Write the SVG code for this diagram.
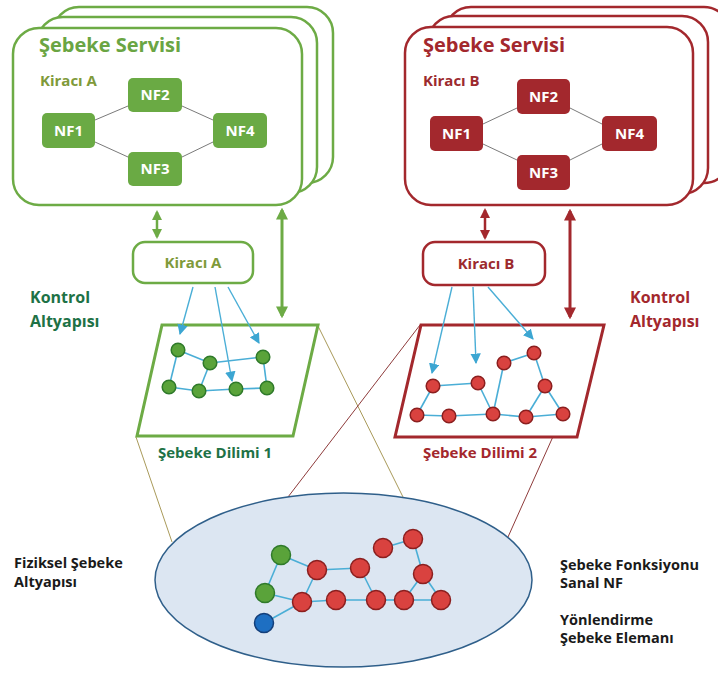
<svg xmlns="http://www.w3.org/2000/svg" width="718" height="673" viewBox="0 0 718 673">
  <defs>
    <style>
      text { font-family: "Open Sans", "Liberation Sans", sans-serif; font-weight: bold; }
      .stackA { fill: #ffffff; stroke: #6dab45; stroke-width: 2.5; }
      .stackB { fill: #ffffff; stroke: #a3282d; stroke-width: 2.5; }
      .nfA { fill: #6aaa44; }
      .nfB { fill: #a3282d; }
      .nft { fill: #ffffff; font-size: 15px; text-anchor: middle; }
      .nfl { stroke: #7a7a7a; stroke-width: 1; fill: none; }
      .tenA { fill: #ffffff; stroke: #6dab45; stroke-width: 2.5; }
      .tenB { fill: #ffffff; stroke: #a3282d; stroke-width: 2.5; }
      .sliceA { fill: #ffffff; stroke: #6dab45; stroke-width: 3; }
      .sliceB { fill: #ffffff; stroke: #a3282d; stroke-width: 3; }
      .link { stroke: #4aaed6; stroke-width: 1.6; fill: none; }
      .ctl { stroke: #4aaed6; stroke-width: 1.4; fill: none; marker-end: url(#blueHead); }
      .gn { fill: #5aa33a; stroke: #2f7a2a; stroke-width: 1.5; }
      .rn { fill: #d9423f; stroke: #8b1f1f; stroke-width: 1.5; }
      .bn { fill: #1e6fc2; stroke: #143f7a; stroke-width: 1.5; }
      .gArrow { stroke: #6dab45; fill: none; marker-start: url(#gHead); marker-end: url(#gHead); }
      .rArrow { stroke: #a3282d; fill: none; marker-start: url(#rHead); marker-end: url(#rHead); }
      .projA { stroke: #a99a5a; stroke-width: 1; fill: none; }
      .projB { stroke: #8e3b3b; stroke-width: 1; fill: none; }
      .lbl { fill: #1a1a1a; font-size: 14.5px; }
    </style>
    <marker id="gHead" viewBox="0 0 10 10" refX="8" refY="5" markerWidth="4" markerHeight="4" orient="auto-start-reverse" markerUnits="strokeWidth">
      <path d="M0,0 L10,5 L0,10 z" fill="#6dab45"/>
    </marker>
    <marker id="rHead" viewBox="0 0 10 10" refX="8" refY="5" markerWidth="4" markerHeight="4" orient="auto-start-reverse" markerUnits="strokeWidth">
      <path d="M0,0 L10,5 L0,10 z" fill="#a3282d"/>
    </marker>
    <marker id="blueHead" viewBox="0 0 10 10" refX="9" refY="5" markerWidth="7.5" markerHeight="7.5" orient="auto" markerUnits="strokeWidth">
      <path d="M0,0 L10,5 L0,10 z" fill="#3ca6d2"/>
    </marker>
  </defs>

  <!-- projection lines from the slices down to the physical infrastructure -->
  <g id="projections">
    <line class="projA" x1="136" y1="437" x2="172" y2="542"/>
    <line class="projA" x1="318" y1="326" x2="403" y2="497"/>
    <line class="projB" x1="420" y1="325" x2="288" y2="497"/>
    <line class="projB" x1="603" y1="325" x2="508" y2="537"/>
  </g>

  <!-- network service, tenant A -->
  <g id="service-a">
    <rect class="stackA" x="53" y="7" width="280" height="176" rx="26"/>
    <rect class="stackA" x="37" y="17" width="280" height="176" rx="26"/>
    <rect class="stackA" x="13" y="28" width="289" height="177" rx="26"/>
    <text x="39" y="52" font-size="20" fill="#6aa543">Şebeke Servisi</text>
    <text x="40" y="86" font-size="15" fill="#7f9a3a">Kiracı A</text>
    <g class="nfl">
      <line x1="95" y1="120" x2="128" y2="106"/>
      <line x1="182" y1="106" x2="213" y2="120"/>
      <line x1="95" y1="142" x2="128" y2="157"/>
      <line x1="182" y1="157" x2="213" y2="142"/>
    </g>
    <rect class="nfA" x="128" y="78" width="54" height="34" rx="5"/>
    <rect class="nfA" x="42" y="113" width="53" height="35" rx="5"/>
    <rect class="nfA" x="213" y="113" width="54" height="35" rx="5"/>
    <rect class="nfA" x="128" y="152" width="54" height="34" rx="5"/>
    <text class="nft" x="155" y="100">NF2</text>
    <text class="nft" x="68.5" y="136">NF1</text>
    <text class="nft" x="240" y="136">NF4</text>
    <text class="nft" x="155" y="174">NF3</text>
  </g>

  <!-- network service, tenant B -->
  <g id="service-b">
    <rect class="stackB" x="445" y="7" width="285" height="176" rx="26"/>
    <rect class="stackB" x="428" y="16" width="280" height="178" rx="26"/>
    <rect class="stackB" x="405" y="27" width="288" height="178" rx="26"/>
    <text x="423" y="52" font-size="20" fill="#a3282d">Şebeke Servisi</text>
    <text x="423" y="86" font-size="15" fill="#9c2a2e">Kiracı B</text>
    <g class="nfl">
      <line x1="483" y1="124" x2="517" y2="108"/>
      <line x1="570" y1="108" x2="602" y2="124"/>
      <line x1="483" y1="144" x2="517" y2="160"/>
      <line x1="570" y1="160" x2="602" y2="144"/>
    </g>
    <rect class="nfB" x="517" y="79" width="53" height="35" rx="5"/>
    <rect class="nfB" x="430" y="116" width="53" height="35" rx="5"/>
    <rect class="nfB" x="602" y="116" width="55" height="35" rx="5"/>
    <rect class="nfB" x="517" y="155" width="53" height="35" rx="5"/>
    <text class="nft" x="543.5" y="102">NF2</text>
    <text class="nft" x="456.5" y="139">NF1</text>
    <text class="nft" x="629.5" y="139">NF4</text>
    <text class="nft" x="543.5" y="178">NF3</text>
  </g>

  <!-- tenant controllers -->
  <g id="tenant-a">
    <rect class="tenA" x="133" y="242" width="120" height="41" rx="12"/>
    <text x="193" y="268" font-size="15" fill="#7f9a3a" text-anchor="middle">Kiracı A</text>
  </g>
  <g id="tenant-b">
    <rect class="tenB" x="423" y="242" width="122" height="43" rx="12"/>
    <text x="486" y="269" font-size="15" fill="#9c2a2e" text-anchor="middle">Kiracı B</text>
  </g>

  <!-- control infrastructure labels -->
  <g id="control-a">
    <text x="30" y="303" font-size="16" fill="#1e7246">Kontrol</text>
    <text x="30" y="327" font-size="16" fill="#1e7246">Altyapısı</text>
  </g>
  <g id="control-b">
    <text x="630" y="303" font-size="16" fill="#a3282d">Kontrol</text>
    <text x="630" y="327" font-size="16" fill="#a3282d">Altyapısı</text>
  </g>

  <!-- network slice 1 -->
  <g id="slice-1">
    <polygon class="sliceA" points="162,325 318,325 293,436 137,436"/>
    <g class="link">
      <line x1="178" y1="350" x2="210" y2="363"/>
      <line x1="178" y1="350" x2="169" y2="387"/>
      <line x1="210" y1="363" x2="199" y2="391"/>
      <line x1="210" y1="363" x2="263" y2="357"/>
      <line x1="263" y1="357" x2="267" y2="388"/>
      <line x1="169" y1="387" x2="199" y2="391"/>
      <line x1="199" y1="391" x2="236" y2="389"/>
      <line x1="236" y1="389" x2="267" y2="388"/>
    </g>
    <circle class="gn" cx="178" cy="350" r="6.8"/>
    <circle class="gn" cx="210" cy="363" r="6.8"/>
    <circle class="gn" cx="263" cy="357" r="6.8"/>
    <circle class="gn" cx="169" cy="387" r="6.8"/>
    <circle class="gn" cx="199" cy="391" r="6.8"/>
    <circle class="gn" cx="236" cy="389" r="6.8"/>
    <circle class="gn" cx="267" cy="388" r="6.8"/>
    <text x="158" y="458" font-size="15" fill="#1e7246">Şebeke Dilimi 1</text>
  </g>

  <!-- network slice 2 -->
  <g id="slice-2">
    <polygon class="sliceB" points="421,325 604,325 577,437 395,437"/>
    <g class="link">
      <line x1="433" y1="386" x2="478" y2="383"/>
      <line x1="433" y1="386" x2="417" y2="415"/>
      <line x1="478" y1="383" x2="493" y2="414"/>
      <line x1="504" y1="363" x2="493" y2="414"/>
      <line x1="504" y1="363" x2="534" y2="353"/>
      <line x1="534" y1="353" x2="545" y2="386"/>
      <line x1="545" y1="386" x2="526" y2="417"/>
      <line x1="545" y1="386" x2="563" y2="414"/>
      <line x1="417" y1="415" x2="449" y2="416"/>
      <line x1="449" y1="416" x2="493" y2="414"/>
      <line x1="493" y1="414" x2="526" y2="417"/>
      <line x1="526" y1="417" x2="563" y2="414"/>
    </g>
    <circle class="rn" cx="433" cy="386" r="6.8"/>
    <circle class="rn" cx="478" cy="383" r="6.8"/>
    <circle class="rn" cx="504" cy="363" r="6.8"/>
    <circle class="rn" cx="534" cy="353" r="6.8"/>
    <circle class="rn" cx="545" cy="386" r="6.8"/>
    <circle class="rn" cx="417" cy="415" r="6.8"/>
    <circle class="rn" cx="449" cy="416" r="6.8"/>
    <circle class="rn" cx="493" cy="414" r="6.8"/>
    <circle class="rn" cx="526" cy="417" r="6.8"/>
    <circle class="rn" cx="563" cy="414" r="6.8"/>
    <text x="423" y="458" font-size="15" fill="#a3282d">Şebeke Dilimi 2</text>
  </g>

  <!-- connectors: service/tenant/slice links and tenant control arrows -->
  <g id="connectors">
    <line class="gArrow" stroke-width="2.5" x1="157" y1="212" x2="157" y2="237"/>
    <line class="gArrow" stroke-width="3" x1="282" y1="210" x2="282" y2="316"/>
    <line class="rArrow" stroke-width="2.5" x1="485" y1="210" x2="485" y2="238"/>
    <line class="rArrow" stroke-width="3" x1="570" y1="211" x2="570" y2="317"/>
    <line class="ctl" x1="193" y1="287" x2="180" y2="334"/>
    <line class="ctl" x1="215" y1="287" x2="232" y2="381"/>
    <line class="ctl" x1="228" y1="287" x2="259" y2="343"/>
    <line class="ctl" x1="452" y1="287" x2="432" y2="373"/>
    <line class="ctl" x1="473" y1="287" x2="476" y2="363"/>
    <line class="ctl" x1="488" y1="287" x2="533" y2="339"/>
  </g>

  <!-- physical network infrastructure -->
  <g id="physical">
    <ellipse cx="343.5" cy="580" rx="188.5" ry="87" fill="#dce6f2" stroke="#2f5f8a" stroke-width="1.5"/>
    <g class="link">
      <line x1="281" y1="555" x2="265" y2="593"/>
      <line x1="281" y1="555" x2="317" y2="570"/>
      <line x1="265" y1="593" x2="302" y2="602"/>
      <line x1="264" y1="623" x2="302" y2="602"/>
      <line x1="317" y1="570" x2="360" y2="568"/>
      <line x1="317" y1="570" x2="302" y2="602"/>
      <line x1="360" y1="568" x2="376" y2="600"/>
      <line x1="302" y1="602" x2="336" y2="600"/>
      <line x1="336" y1="600" x2="376" y2="600"/>
      <line x1="376" y1="600" x2="404" y2="600"/>
      <line x1="404" y1="600" x2="441" y2="600"/>
      <line x1="404" y1="600" x2="423" y2="574"/>
      <line x1="423" y1="574" x2="441" y2="600"/>
      <line x1="423" y1="574" x2="413" y2="539"/>
      <line x1="413" y1="539" x2="383" y2="548"/>
    </g>
    <circle class="gn" cx="281" cy="555" r="9.5"/>
    <circle class="gn" cx="265" cy="593" r="9.5"/>
    <circle class="bn" cx="264" cy="623" r="9.5"/>
    <circle class="rn" cx="317" cy="570" r="9.5"/>
    <circle class="rn" cx="360" cy="568" r="9.5"/>
    <circle class="rn" cx="383" cy="548" r="9.5"/>
    <circle class="rn" cx="413" cy="539" r="9.5"/>
    <circle class="rn" cx="423" cy="574" r="9.5"/>
    <circle class="rn" cx="302" cy="602" r="9.5"/>
    <circle class="rn" cx="336" cy="600" r="9.5"/>
    <circle class="rn" cx="376" cy="600" r="9.5"/>
    <circle class="rn" cx="404" cy="600" r="9.5"/>
    <circle class="rn" cx="441" cy="600" r="9.5"/>
  </g>

  <!-- side labels -->
  <g id="physical-label">
    <text class="lbl" x="14" y="568">Fiziksel Şebeke</text>
    <text class="lbl" x="14" y="587">Altyapısı</text>
  </g>
  <g id="legend">
    <text class="lbl" x="560" y="570">Şebeke Fonksiyonu</text>
    <text class="lbl" x="560" y="588">Sanal NF</text>
    <text class="lbl" x="560" y="625">Yönlendirme</text>
    <text class="lbl" x="560" y="643">Şebeke Elemanı</text>
  </g>
</svg>
